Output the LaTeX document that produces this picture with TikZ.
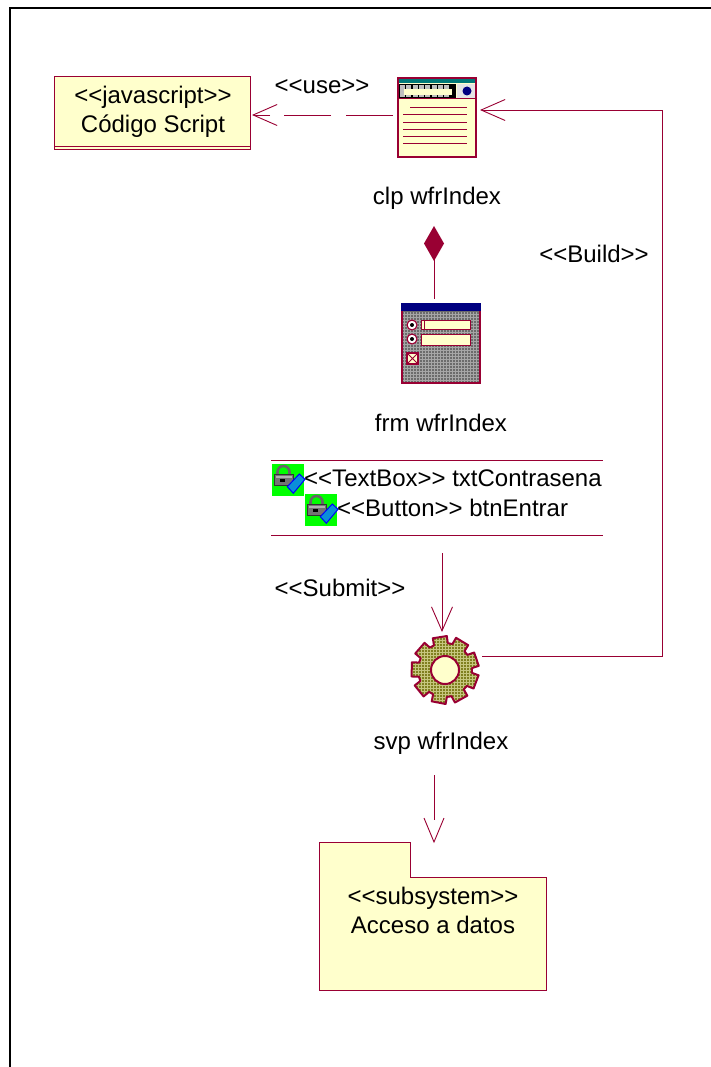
\documentclass[tikz,border=0pt]{standalone}
\usepackage{fontspec}
\setmainfont{Liberation Sans}
\usetikzlibrary{arrows.meta}

\definecolor{rosered}{HTML}{990033}
\definecolor{roseyellow}{HTML}{FFFFCC}
\definecolor{roseblue}{HTML}{000080}
\definecolor{roseteal}{HTML}{007878}
\definecolor{roseolive}{HTML}{808020}

\tikzset{
  umlbox/.style={draw=rosered,fill=roseyellow,line width=.9pt},
  iconbox/.style={draw=rosered,line width=2pt,inner sep=0pt,outer sep=0pt},
  caption/.style={inner sep=0pt,font=\fontsize{24}{29}\selectfont,align=center},
  link/.style={rosered,line width=.9pt},
  openhead/.style={-{Straight Barb[length=24pt,width=21pt,line width=.9pt]}},
}

\newcommand{\gearoutline}{
  (6:27) \foreach \t in {0,40,...,320}
    {-- (\t+6:27) -- (\t+9:34) -- (\t+33:34) -- (\t+36:27)} -- cycle}

\begin{document}
\begin{tikzpicture}[x=1pt,y=-1pt]
  \useasboundingbox (0,0) rectangle (711,1067);
  \fill[white] (0,0) rectangle (711,1067);
  \draw[line width=2pt] (10,1067) -- (10,8) -- (711,8);

  %%%%%%%%%%%%%%%%%%%%%%%%%%%%%%%%%%%%%%%%%%%%%%%%%%%%%%%%%%%%%%%%%%%%%%%%%%%
  %%%%  Script class
  \node[umlbox,minimum width=196,minimum height=73,inner sep=0pt,outer sep=0pt] (script) at (152,112.5) {};
  \draw[rosered,line width=.9pt] (54,146) -- (250,146);
  \node[caption] (scriptname) at (153,112) {<{}<javascript>{}>\\Código Script};

  %%%%%%%%%%%%%%%%%%%%%%%%%%%%%%%%%%%%%%%%%%%%%%%%%%%%%%%%%%%%%%%%%%%%%%%%%%%
  %%%%  Client page
  \node[iconbox,fill=roseyellow,minimum width=78,minimum height=79] (clp) at (437,117.5) {};
  \fill[roseteal] (399,79) rectangle (475,83);
  \fill[black] (399,84) rectangle (456,98);
  \foreach \x in {400,406.3,...,450}
    {\fill[black!25] (\x,85) rectangle +(5,12);}
  \fill[roseyellow] (404,89) rectangle (452,95);
  \fill[black!10] (457,84) rectangle (475,98);
  \fill[roseblue] (467,91) circle (4.5);
  \draw[rosered,line width=1.4pt] (398,98.5) -- (476,98.5);
  \draw[rosered,line width=1pt] (410,108) -- (467,108);
  \foreach \y in {115,122.7,130,137,144}
    {\draw[rosered,line width=1pt] (403,\y) -- (467,\y);}
  \node[caption] (clpname) at (437,198) {clp wfrIndex};

  %%%%%%%%%%%%%%%%%%%%%%%%%%%%%%%%%%%%%%%%%%%%%%%%%%%%%%%%%%%%%%%%%%%%%%%%%%%
  %%%%  Form
  \node[iconbox,fill=black!58,minimum width=78,minimum height=79] (frm) at (441,343.5) {};
  \foreach \x in {404,407,...,478}
    {\draw[black!35,line width=.3pt] (\x,312) -- (\x,382);}
  \foreach \y in {314,317,...,381}
    {\draw[black!35,line width=.3pt] (403,\y) -- (479,\y);}
  \draw[rosered,line width=2pt] (frm.south west) rectangle (frm.north east);
  \fill[roseblue] (401,303) rectangle (481,311);
  \foreach \y in {325,339}
    {\fill[white] (412,\y) circle (5.5);
     \draw[rosered,line width=1.2pt] (412,\y) circle (5);
     \fill[black] (412,\y) circle (2);}
  \draw[rosered,line width=1pt,fill=roseyellow] (421,320) rectangle (470,329);
  \draw[rosered,line width=1pt,fill=roseyellow] (421,334) rectangle (470,345);
  \draw[rosered,line width=1pt] (424.5,320) -- (424.5,329);
  \draw[rosered,line width=1.2pt,fill=roseyellow] (407,353) rectangle (418,364);
  \draw[rosered,line width=1pt] (407,353) -- (418,364) (407,364) -- (418,353);
  \node[caption] (frmname) at (441,423) {frm wfrIndex};

  %%%%%%%%%%%%%%%%%%%%%%%%%%%%%%%%%%%%%%%%%%%%%%%%%%%%%%%%%%%%%%%%%%%%%%%%%%%
  %%%%  Composition diamond
  \node[inner sep=0pt] (comp) at (434,243.5) {};
  \fill[rosered] (434,226) -- (444,243.5) -- (434,261) -- (424,243.5) -- cycle;

  %%%%%%%%%%%%%%%%%%%%%%%%%%%%%%%%%%%%%%%%%%%%%%%%%%%%%%%%%%%%%%%%%%%%%%%%%%%
  %%%%  Form members
  \coordinate (ruleleft) at (271,460);
  \coordinate (ruleright) at (603,460);
  \draw[link] (ruleleft) -- (ruleright);
  \draw[link] (271,535) -- (603,535);
  \foreach \x/\y/\n in {272/464/a,305/494/b}
    {\node[minimum size=32,inner sep=0pt,outer sep=0pt,fill=green,anchor=north west] (lock\n) at (\x,\y) {};
     \begin{scope}[shift={(\x,\y)}]
       \draw[black!60,line width=2.6pt] (5.5,11) -- (5.5,8) arc (180:360:6) -- (17.5,11);
       \fill[black!55,draw=black!80] (2.5,10) rectangle (21,21);
       \fill[black!30] (4,11.5) rectangle (19.5,14);
       \fill[black] (8,15) rectangle (13,18);
       \fill[cyan!75!blue,draw=blue,line width=1pt] (15.3,22.7) -- (27.3,10) -- (33,15.3) -- (21.3,29.3) -- cycle;
     \end{scope}}
  \node[caption,anchor=base west] (txtfield) at (304,486.5) {<{}<TextBox>{}> txtContrasena};
  \node[caption,anchor=base west] (btnfield) at (337,516) {<{}<Button>{}> btnEntrar};

  %%%%%%%%%%%%%%%%%%%%%%%%%%%%%%%%%%%%%%%%%%%%%%%%%%%%%%%%%%%%%%%%%%%%%%%%%%%
  %%%%  Server page
  \node[inner sep=0pt,outer sep=0pt,minimum size=68] (svp) at (445,670) {};
  \begin{scope}[shift={(445,670)}]
    \begin{scope}
      \clip \gearoutline;
      \fill[roseolive] (-36,-36) rectangle (36,36);
      \foreach \t in {-36,-33,...,36}
        {\draw[roseyellow!55!roseolive,line width=.3pt] (\t,-36) -- (\t,36);
         \draw[roseyellow!55!roseolive,line width=.3pt] (-36,\t) -- (36,\t);}
    \end{scope}
    \draw[rosered,line width=2pt,line join=round] \gearoutline;
    \draw[rosered,line width=2pt,fill=roseyellow] (0,0) circle (14);
  \end{scope}
  \node[caption] (svpname) at (441,743) {svp wfrIndex};

  %%%%%%%%%%%%%%%%%%%%%%%%%%%%%%%%%%%%%%%%%%%%%%%%%%%%%%%%%%%%%%%%%%%%%%%%%%%
  %%%%  Subsystem
  \node[inner sep=0pt,outer sep=0pt,minimum width=227,minimum height=148] (data) at (432.5,916) {};
  \draw[umlbox] (319,842) -- (410,842) -- (410,877) -- (546,877) -- (546,990) -- (319,990) -- cycle;
  \node[caption] (dataname) at (433,910) {<{}<subsystem>{}>\\Acceso a datos};

  %%%%%%%%%%%%%%%%%%%%%%%%%%%%%%%%%%%%%%%%%%%%%%%%%%%%%%%%%%%%%%%%%%%%%%%%%%%
  %%%%  Connectors
  \draw[link,openhead,dash pattern=on 47pt off 15pt on 47pt off 14pt on 60pt]
    ([shift={(-5,-2.5)}]clp.west) -- ([shift={(2,2.5)}]script.east);
  \node[caption] (uselabel) at (322,87) {<{}<use>{}>};
  \draw[link] (comp.center) -- ([yshift=5pt]frm.north -| comp);
  \coordinate (buildturnlow) at (662,656);
  \coordinate (buildturnhigh) at (662,110);
  \draw[link,openhead] ([shift={(3,-14)}]svp.east) -- (buildturnlow) -- (buildturnhigh) -- ([shift={(4,-7.5)}]clp.east);
  \node[caption] (buildlabel) at (594,254) {<{}<Build>{}>};
  \coordinate (submitstart) at (442,553);
  \coordinate (submitend) at (442,632);
  \draw[link,openhead] (submitstart) -- (submitend);
  \node[caption] (submitlabel) at (340,588) {<{}<Submit>{}>};
  \coordinate (accessstart) at (434,775);
  \coordinate (accessstop) at (434,820);
  \coordinate (accesstip) at (434,842);
  \draw[link] (accessstart) -- (accessstop);
  \draw[link] (424,818) -- (accesstip) -- (444,818);
\end{tikzpicture}
\end{document}
